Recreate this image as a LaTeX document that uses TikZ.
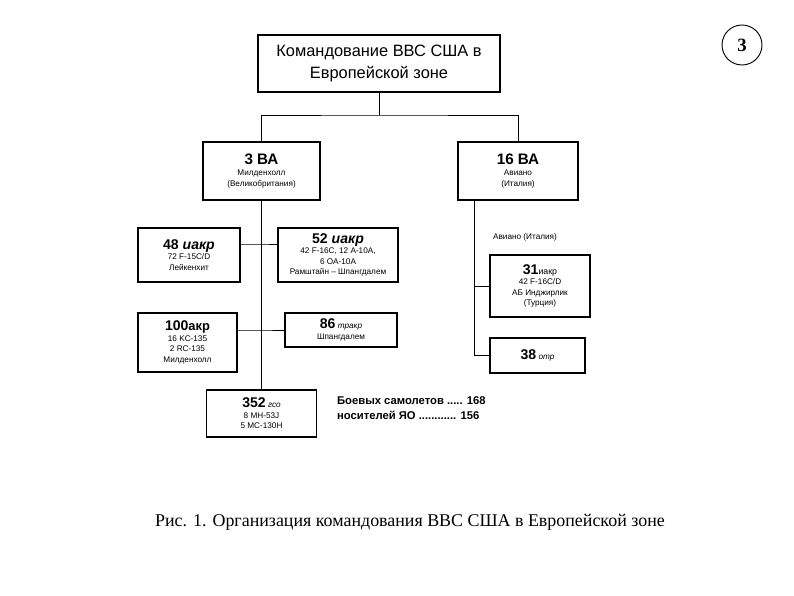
\documentclass[tikz,border=0pt]{standalone}
\usepackage{fontspec}
\setmainfont{Liberation Sans}
\newfontfamily\capfont{Liberation Serif}
\newcommand{\UnitHead}[1]{{\fontsize{13}{15}\selectfont\bfseries #1}}
\newcommand{\UnitSub}[1]{{\fontsize{12}{14}\selectfont\bfseries #1}}
\newcommand{\UnitSmall}{\fontsize{7}{9}\selectfont}
\tikzset{
	unitbox/.style={draw, line width=0.9pt, align=center, inner sep=2pt, font=\UnitSmall},
	link/.style={line width=0.8pt}
}
%one box of the chart: name, x, y, width, height, text
\newcommand{\Unit}[6]{
	\node[unitbox, minimum width=#4*0.03cm, minimum height=#5*0.03cm] (#1) at (#2,#3) {#6};
}

\begin{document}
\begin{tikzpicture}[x=0.03cm,y=-0.03cm]
\useasboundingbox (0,0) rectangle (794,595);
%command
\node[unitbox, line width=1.6pt, minimum width=242*0.03cm, minimum height=57*0.03cm,
	font=\fontsize{14}{19}\selectfont] (hq) at (379,63.5) {Командование ВВС США в\\Европейской зоне};
%air forces
\Unit{va3}{261.5}{171}{117}{58}{\UnitHead{3 ВА}\\Милденхолл\\(Великобритания)}
\Unit{va16}{518}{171}{120}{58}{\UnitHead{16 ВА}\\Авиано\\(Италия)}
%wings of 3 ВА
\Unit{w48}{189}{255}{102}{54}{\UnitSub{48 \itshape иакр}\\72 F-15C/D\\Лейкенхит}
\Unit{w52}{338}{255}{120}{54}{\UnitSub{52 \itshape иакр}\\42 F-16C, 12 A-10A,\\6 OA-10A\\Рамштайн -- Шпангдалем}
\Unit{w100}{187.5}{342.5}{99}{59}{\UnitSub{100}\textbf{\fontsize{11}{13}\selectfont акр}\\16 KC-135\\2 RC-135\\Милденхолл}
\Unit{w86}{341}{330}{112}{34}{\UnitSub{86} \itshape тракр\\[1pt]Шпангдалем}
\Unit{g352}{261.5}{413.5}{110}{47}{\UnitSub{352} \itshape гсо\\8 MH-53J\\5 MC-130H}
%wings of 16 ВА
\Unit{w31}{540}{286}{100}{62}{\UnitSub{31}\fontsize{7.5}{9}\selectfont иакр\\42 F-16C/D\\АБ Инджирлик\\(Турция)}
\Unit{g38}{537.5}{355.5}{95}{35}{\UnitSub{38} \itshape отр}
\node[font=\UnitSmall] (aviano) at (525,237) {Авиано (Италия)};
%links
\coordinate (split) at (379,115);
\draw[link] (hq.south) -- (split);
\draw[link] (va3.north) |- (split) -| (va16.north);
\draw[link] (va3.south) -- (g352.north);
\coordinate (lt1) at (261.5,244);
\coordinate (lt2) at (261.5,330);
\draw[link] (w48.east |- lt1) -- (lt1) -- (w52.west |- lt1);
\draw[link] (w100.east |- lt2) -- (lt2) -- (w86.west |- lt2);
\coordinate (rt) at (474,200);
\draw[link] (rt) |- (g38.west);
\draw[link] (rt |- w31.west) -- (w31.west);
%totals
\node[anchor=north west, align=left, font=\fontsize{9.6}{12}\selectfont\bfseries] (totals) at (333,393)
	{Боевых самолетов ..... 168\\носителей ЯО ............ 156};
%caption
\node[font=\capfont\fontsize{15.3}{17}\selectfont] (caption) at (410,522)
	{Рис. 1. Организация командования ВВС США в Европейской зоне};
%page number
\node[circle, draw, line width=0.8pt, minimum size=40*0.03cm, font=\capfont\fontsize{16}{18}\selectfont\bfseries] (page) at (742,45) {3};
\end{tikzpicture}
\end{document}
